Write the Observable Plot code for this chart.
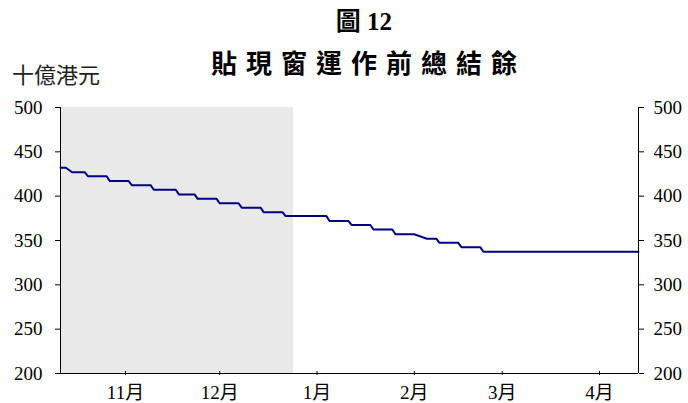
<!DOCTYPE html>
<html>
<head>
<meta charset="utf-8">
<script src="https://cdn.jsdelivr.net/npm/d3@7"></script>
<script src="https://cdn.jsdelivr.net/npm/@observablehq/plot@0.6"></script>
<style>
  body { margin: 0; background: #fff; }
  #wrap { position: relative; width: 688px; height: 403px; overflow: hidden; }
  #wrap svg { position: absolute; left: 0; top: 0; }
  .t { position: absolute; white-space: nowrap; color: #000; }
  #title { left: 0; width: 728px; text-align: center; top: 7px; font: bold 25px/30px "Liberation Serif", "Noto Sans CJK TC", serif; }
  #subtitle { left: 0; width: 737px; text-align: center; top: 47px; font: bold 26px/30px "Noto Sans CJK TC", sans-serif; letter-spacing: 9px; }
  #unit { left: 12px; top: 59px; font: 22px/28px "Noto Sans CJK TC", sans-serif; color: #222; }
</style>
</head>
<body>
<div id="wrap">
  <div class="t" id="title">圖 12</div>
  <div class="t" id="subtitle">貼現窗運作前總結餘</div>
  <div class="t" id="unit">十億港元</div>
</div>
<script>
// Breakpoints of the step series (billion HKD)
const dates = [
  "1998-10-11T07:00Z", "1998-10-13", "1998-10-15",
  "1998-10-19", "1998-10-20",
  "1998-10-26", "1998-10-27",
  "1998-11-02", "1998-11-03",
  "1998-11-09", "1998-11-10",
  "1998-11-17", "1998-11-18",
  "1998-11-23", "1998-11-24",
  "1998-11-30", "1998-12-01",
  "1998-12-07", "1998-12-08",
  "1998-12-14", "1998-12-15",
  "1998-12-21", "1998-12-22",
  "1999-01-04", "1999-01-05",
  "1999-01-11", "1999-01-12",
  "1999-01-18", "1999-01-19",
  "1999-01-25", "1999-01-26",
  "1999-02-01", "1999-02-05",
  "1999-02-08", "1999-02-09",
  "1999-02-15", "1999-02-16",
  "1999-02-22", "1999-02-23",
  "1999-04-13T10:00Z"
];
const values = [
  432, 432, 427,
  427, 422.5,
  422.5, 417,
  417, 412.4,
  412.4, 407.2,
  407.2, 402,
  402, 397,
  397, 392,
  392, 387,
  387, 382,
  382, 377.5,
  377.5, 372,
  372, 367.5,
  367.5, 362.4,
  362.4, 357,
  357, 352,
  352, 347.4,
  347.4, 342.5,
  342.5, 337.3,
  337.3
];
const xDomain = ["1998-10-11T07:00Z", "1999-04-13T10:00Z"];
const shadeRange = ["1998-10-11T07:00Z", "1998-12-24T12:00Z"];
const monthTicks = ["1998-11-01", "1998-12-01", "1999-01-01", "1999-02-01", "1999-03-01", "1999-04-01"];
const monthLabels = ["11月", "12月", "1月", "2月", "3月", "4月"];
const yTicks = [200, 250, 300, 350, 400, 450, 500];

const data = dates.map((d, i) => ({date: new Date(d), value: values[i]}));
const ticks = monthTicks.map(d => new Date(d));
const labelMap = new Map(ticks.map((d, i) => [+d, monthLabels[i]]));
const x0 = new Date(xDomain[0]), x1 = new Date(xDomain[1]);

const chart = Plot.plot({
  width: 688,
  height: 403,
  marginLeft: 60,
  marginRight: 50,
  marginTop: 107,
  marginBottom: 30,
  style: {fontFamily: "'Liberation Serif', 'Noto Sans CJK TC', serif", fontSize: "19px", color: "#000", background: "transparent", overflow: "visible"},
  x: {type: "utc", domain: [x0, x1]},
  y: {domain: [200, 500]},
  marks: [
    Plot.rect([{a: new Date(shadeRange[0]), b: new Date(shadeRange[1])}], {x1: "a", x2: "b", y1: 200, y2: 500, fill: "#e9e9e9"}),
    Plot.line(data, {x: "date", y: "value", stroke: "#000080", strokeWidth: 2}),
    Plot.ruleX([x0, x1], {y1: 200, y2: 500, stroke: "#000", strokeWidth: 1}),
    Plot.ruleY([200], {stroke: "#000", strokeWidth: 1}),
    Plot.ruleX(ticks, {y1: 197.8, y2: 202.2, stroke: "#000", strokeWidth: 1}),
    Plot.axisY({anchor: "left", ticks: yTicks, tickSize: 5, tickPadding: 13, label: null, tickFormat: d => String(d)}),
    Plot.axisY({anchor: "right", ticks: yTicks, tickSize: 5, tickPadding: 10, label: null, tickFormat: d => String(d)}),
    Plot.axisX({ticks: ticks, tickSize: 0, tickPadding: 12, label: null, tickFormat: d => labelMap.get(+d)})
  ]
});
document.getElementById("wrap").appendChild(chart);
</script>
</body>
</html>
